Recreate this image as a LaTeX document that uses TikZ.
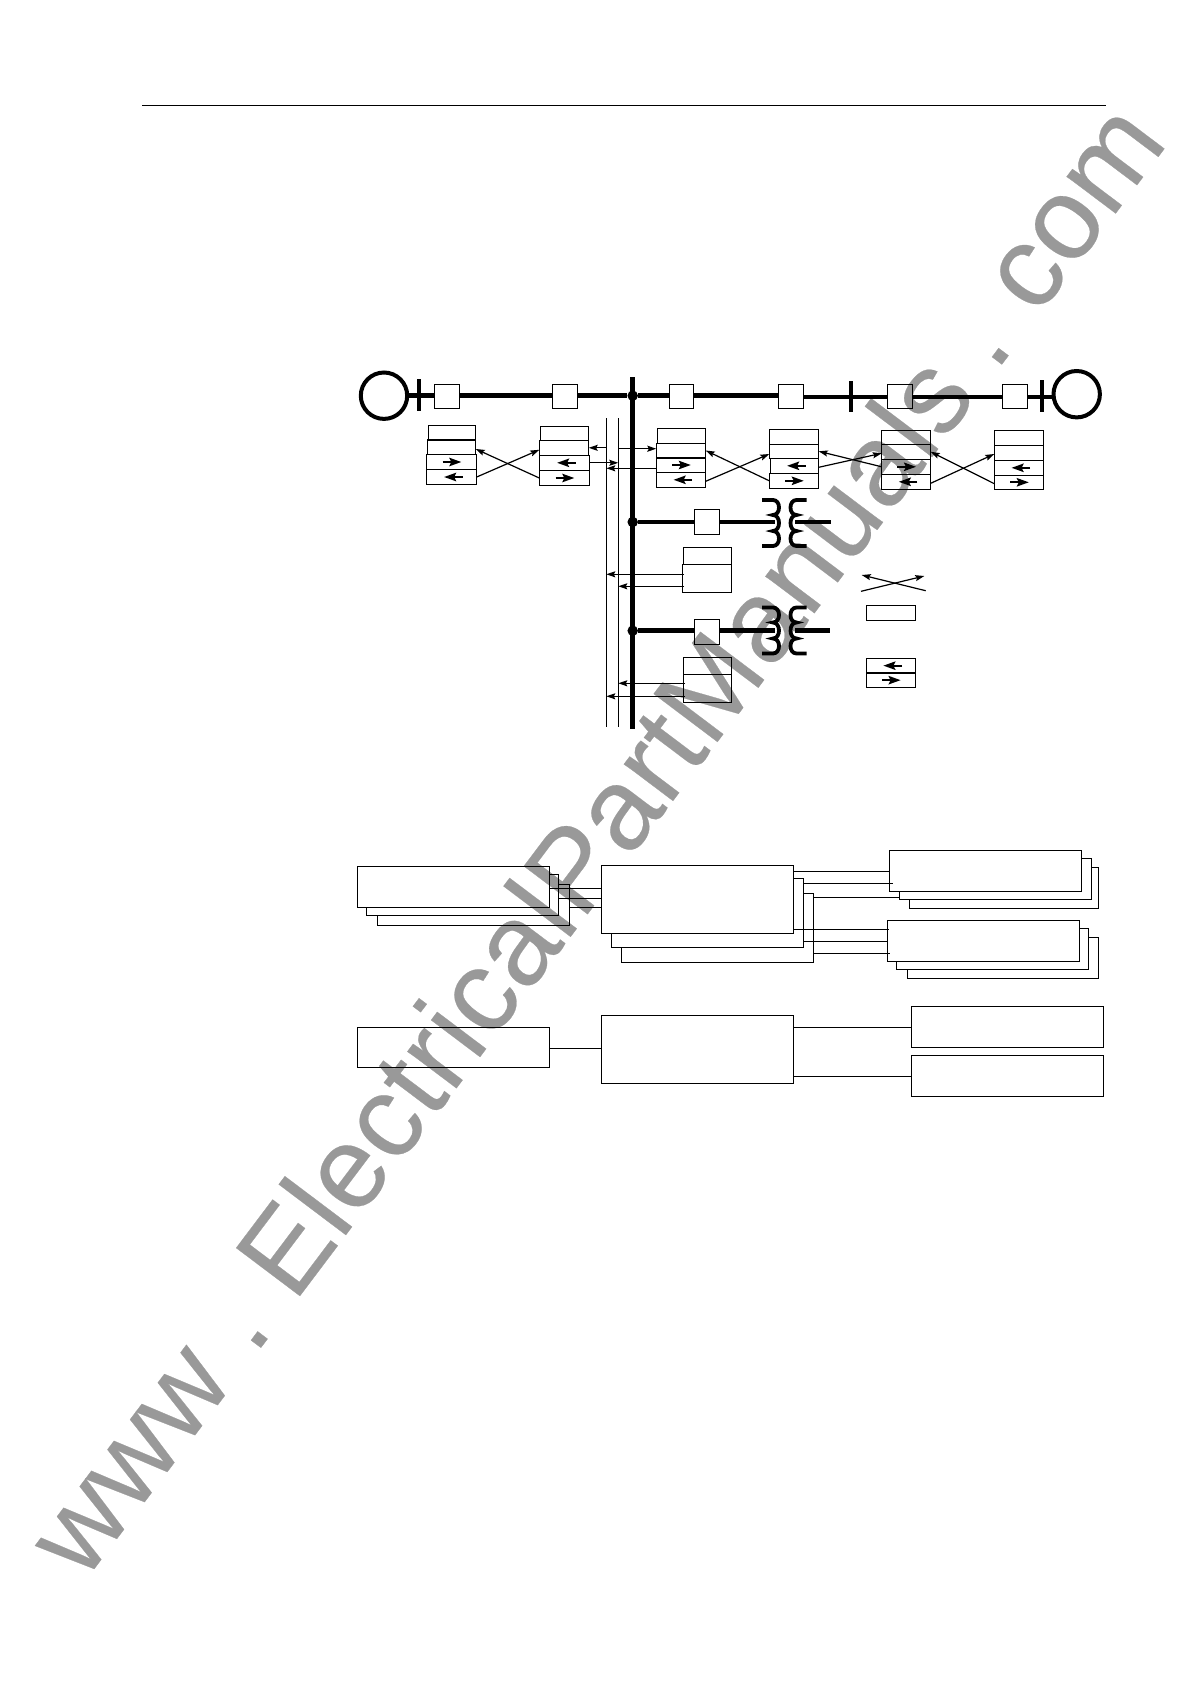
\documentclass[tikz,border=0pt]{standalone}
\usepackage{fontspec}
\setmainfont{Liberation Sans}
\newfontfamily\wmfont[FakeBold=0.2]{Liberation Sans}
\newfontfamily\wmword[FakeBold=0.2,LetterSpace=0.65]{Liberation Sans}
\usetikzlibrary{arrows.meta}
\definecolor{wmgray}{HTML}{999999}
\tikzset{
  box/.style={draw=black,line width=1.2pt,inner sep=0pt,outer sep=0pt,fill=none},
  ghost/.style={inner sep=0pt,outer sep=0pt},
  gen/.style={circle,draw=black,line width=4pt,inner sep=0pt,outer sep=0pt,minimum size=46.4pt},
  dot/.style={circle,fill=black,inner sep=0pt,outer sep=0pt,minimum size=10.5pt},
  power/.style={line width=4.6pt,draw=black},
  bar/.style={line width=4.4pt,draw=black},
  coil/.style={line width=3.8pt,draw=black,line cap=butt},
  wire/.style={line width=1.2pt,draw=black},
  divider/.style={line width=2pt,draw=black},
  arr/.style={line width=1.2pt,draw=black,-{Stealth[length=9pt,width=6pt,inset=1.5pt]}},
  mini/.style={line width=2pt,draw=black,-{Stealth[length=12pt,width=8.4pt,inset=2pt]}}
}
\newcommand{\bx}[6][]{\node[box,#1,minimum width={(#5-#3)*1pt},minimum height={(#6-#4)*1pt}] (#2) at ({(#3+#5)/2},{(#4+#6)/2}) {};}
% back sheet of a stack: name x1 y1 x2 y2 xprev yprev
\newcommand{\back}[7]{\node[ghost,minimum width={(#4-#2)*1pt},minimum height={(#5-#3)*1pt}] (#1) at ({(#2+#4)/2},{(#3+#5)/2}) {};
  \draw[wire] (#6,#3) -- (#4,#3) -- (#4,#5) -- (#2,#5) -- (#2,#7);}
\newcommand{\miniL}[1]{\draw[mini] ([xshift=11.2pt]#1.center) -- ([xshift=-7.4pt]#1.center);}
\newcommand{\miniR}[1]{\draw[mini] ([xshift=-8.8pt]#1.center) -- ([xshift=9.8pt]#1.center);}
% transformer: y of top stub
\newcommand{\xfmr}[1]{%
 \draw[coil] (762,#1) -- (773,#1) .. controls (781,#1) and (781,15+#1) .. (773,15+#1)
   .. controls (781,15+#1) and (781,31+#1) .. (773,31+#1)
   .. controls (781,31+#1) and (781,46+#1) .. (773,46+#1) -- (762,46+#1);
 \draw[coil] (806.5,#1) -- (796.5,#1) .. controls (788.5,#1) and (788.5,15+#1) .. (796.5,15+#1)
   .. controls (788.5,15+#1) and (788.5,31+#1) .. (796.5,31+#1)
   .. controls (788.5,31+#1) and (788.5,46+#1) .. (796.5,46+#1) -- (806.5,46+#1);}
\begin{document}
\begin{tikzpicture}[x=1pt,y=-1pt]
\useasboundingbox (0,0) rectangle (1190,1682);
% watermark
\node[ghost,anchor=base west,rotate=53,text=wmgray,font=\wmfont\fontsize{116}{116}\selectfont] (wm) at (84,1582.5) {www . \kern-9.4pt{\wmword ElectricalPartManuals}\kern-3.6pt{} . \kern-6pt com};
% page rule
\coordinate (ruleA) at (142,105.3);
\coordinate (ruleB) at (1106,105.3);
\draw[line width=1.2pt] (ruleA) -- (ruleB);
% reference levels
\coordinate (yl) at (0,395.7);
\coordinate (yr) at (0,397);
% main line
\node[gen] (g1) at (384,395.7) {};
\node[gen] (g2) at (1076.7,394.2) {};
\bx{s1}{434.3}{384.3}{459.7}{408.7}
\bx{s2}{552.3}{384.3}{577.7}{408.7}
\bx{s3}{669.3}{384.3}{693.7}{408.7}
\bx{s4}{778.3}{384.3}{803.7}{408.7}
\bx{s5}{887.3}{384.3}{912.7}{408.7}
\bx{s6}{1002.3}{384.3}{1027.7}{408.7}
\node[dot] (j1) at (632.7,395.7) {};
\node[dot] (j2) at (632.7,522) {};
\node[dot] (j3) at (632.7,630.7) {};
\coordinate (busT) at (632.7,377);
\coordinate (busE) at (632.7,728.7);
\draw[line width=4.8pt] (busT) -- (busE);
\coordinate (barAT) at (419,379); \coordinate (barAB) at (419,410.7);
\coordinate (barBT) at (851,381); \coordinate (barBB) at (851,412);
\coordinate (barCT) at (1042,380); \coordinate (barCB) at (1042,412);
\draw[bar] (barAT) -- (barAB);
\draw[bar] (barBT) -- (barBB);
\draw[bar] (barCT) -- (barCB);
\draw[power] (g1.east |- yl) -- (s1.west |- yl);
\draw[power] (s1.east |- yl) -- (s2.west |- yl);
\draw[power] (s2.east |- yl) -- (j1);
\draw[power] (j1) -- (s3.west |- yl);
\draw[power] (s3.east |- yl) -- (s4.west |- yl);
\draw[power] (s4.east |- yr) -- (s5.west |- yr);
\draw[power] (s5.east |- yr) -- (s6.west |- yr);
\draw[power] (s6.east |- yr) -- (g2.west |- yr);
% thin buses
\coordinate (busA) at (606.3,418); \coordinate (busAe) at (606.3,727.3);
\coordinate (busB) at (618.3,418); \coordinate (busBe) at (618.3,727.3);
\draw[wire] (busA) -- (busAe);
\draw[wire] (busB) -- (busBe);
% relay stacks
\bx{a1}{428.3}{425.3}{475.7}{439.7}
\bx{a2}{427.3}{439.7}{475.7}{454.7}
\bx{a3}{426.3}{454.7}{476.7}{469.3}
\bx{a4}{426.3}{469.3}{476.7}{484.7}
\draw[divider] (a1.south west) -- (a1.south east);
\miniR{a3} \miniL{a4}
\bx{b1}{540.3}{426.3}{588.7}{440.3}
\bx{b2}{539.3}{440.3}{588.7}{455.3}
\bx{b3}{539.3}{455.3}{589.7}{470.3}
\bx{b4}{539.3}{470.3}{589.7}{485.7}
\miniL{b3} \miniR{b4}
\bx{c1}{657.3}{428.3}{705.7}{443.3}
\bx{c2}{656.3}{443.3}{705.7}{457.7}
\bx{c3}{656.3}{457.7}{705.7}{472.3}
\bx{c4}{656.3}{472.3}{705.7}{487.3}
\draw[divider] (c2.south west) -- (c2.south east);
\miniR{c3} \miniL{c4}
\bx{d1}{769.3}{429.3}{818.7}{444.3}
\bx{d2}{769.3}{444.3}{818.7}{458.3}
\bx{d3}{770.3}{458.3}{818.7}{473.3}
\bx{d4}{769.3}{473.3}{818.7}{488.3}
\miniL{d3} \miniR{d4}
\bx{e1}{881.7}{430.3}{930.7}{444.3}
\bx{e2}{881.7}{444.3}{930.7}{459.3}
\bx{e3}{881.7}{459.3}{930.7}{474.3}
\bx{e4}{881.7}{474.3}{930.7}{489.3}
\miniR{e3} \miniL{e4}
\bx{f1}{994.3}{430.3}{1043.7}{445.3}
\bx{f2}{994.3}{445.3}{1043.7}{460.3}
\bx{f3}{994.3}{460.3}{1043.7}{475.3}
\bx{f4}{994.3}{475.3}{1043.7}{489.3}
\miniL{f3} \miniR{f4}
% crossing links
\draw[arr] (b4.west) -- ([yshift=-1.8pt]a2.east);
\draw[arr] (a4.east) -- ([yshift=-2pt]b2.west);
\draw[arr] (d4.west) -- (c2.east);
\draw[arr] ([yshift=-1.5pt]c4.east) -- ([yshift=-2.7pt]d2.west);
\draw[arr] ([yshift=-1.5pt]d3.east) -- ([yshift=-1.5pt]e2.west);
\draw[arr] (e3.west) -- (d2.east);
\draw[arr] ([yshift=-1.5pt]e4.east) -- ([yshift=-1.2pt]f2.west);
\draw[arr] ([yshift=-1.4pt]f4.west) -- (e2.east);
% links to thin buses
\coordinate (k1) at (0,448.7);
\coordinate (k2) at (0,468.3);
\draw[arr] (busA |- b2.east) -- (b2.east);
\draw[arr] (busB |- k1) -- (c2.west |- k1);
\draw[arr] (b3.east) -- (busB |- b3.east);
\draw[arr] (c3.west |- k2) -- (busA |- k2);
% transformer branches
\bx{s7}{694.3}{509.3}{719.7}{534.7}
\bx{s8}{694.3}{619.3}{719.7}{644.7}
\xfmr{500}
\xfmr{607.5}
\coordinate (t1a) at (775,522); \coordinate (t1b) at (795,522); \coordinate (t1c) at (831,522);
\coordinate (t2a) at (775,630.7); \coordinate (t2b) at (795,630.7); \coordinate (t2c) at (830,630.7);
\draw[power] (j2) -- (s7.west |- j2);
\draw[power] (s7.east |- j2) -- (t1a);
\draw[power] (t1b) -- (t1c);
\draw[power] (j3) -- (s8.west |- j3);
\draw[power] (s8.east |- j3) -- (t2a);
\draw[power] (t2b) -- (t2c);
% relays on the branches
\bx{p1}{683.3}{547.3}{731.3}{564.3}
\bx{p2}{682.3}{564.3}{731.3}{592.3}
\bx{q1}{683.3}{657.3}{731.7}{674.3}
\bx{q2}{683.3}{674.3}{731.7}{702.3}
\coordinate (m1) at (684,574.3);
\coordinate (m2) at (684,586.3);
\coordinate (m3) at (685,683.3);
\coordinate (m4) at (685,696.3);
\draw[arr] (m1) -- (busA |- m1);
\draw[arr] (m2) -- (busB |- m2);
\draw[arr] (m3) -- (busB |- m3);
\draw[arr] (m4) -- (busA |- m4);
% legend
\coordinate (xa) at (925.7,590.7); \coordinate (xb) at (861.7,575);
\coordinate (xc) at (861,591.3);   \coordinate (xd) at (924.3,576);
\draw[arr] (xa) -- (xb);
\draw[arr] (xc) -- (xd);
\bx{lg1}{866.3}{605.3}{915.3}{620.7}
\bx{lg2}{866.3}{658.3}{915.3}{673}
\bx{lg3}{866.3}{673}{915.3}{687.3}
\draw[divider] (lg2.south west) -- (lg2.south east);
\miniL{lg2} \miniR{lg3}
% lower blocks
\bx{l1}{357.3}{866.3}{549.7}{907.7}
\back{l2}{366.3}{874.3}{558.7}{915.3}{549.7}{907.7}
\back{l3}{377.3}{884.3}{569.3}{925.3}{558.7}{915.3}
\bx{m1b}{601.3}{865.3}{793.7}{933.3}
\back{m2b}{611.3}{878.3}{803.3}{947.3}{793.7}{933.3}
\back{m3b}{621.3}{893.3}{813.3}{962.3}{803.3}{947.3}
\bx{r1}{889.3}{850.3}{1081.7}{891.7}
\back{r2}{899.3}{858.3}{1091.3}{899.7}{1081.7}{891.7}
\back{r3}{909.3}{867.3}{1098.7}{908.3}{1091.3}{899.7}
\bx{r4}{887.3}{920.3}{1079.7}{961.7}
\back{r5}{896.3}{928.3}{1088.7}{969.7}{1079.7}{961.7}
\back{r6}{907.3}{937.3}{1098.7}{978.3}{1088.7}{969.7}
\bx{l4}{357.3}{1027.3}{549.7}{1067.7}
\bx{m4b}{601.3}{1015.3}{793.7}{1083.3}
\bx{r7}{911.3}{1006.3}{1103.7}{1047.3}
\bx{r8}{911.3}{1055.3}{1103.7}{1096.3}
\coordinate (n1) at (0,888.3);
\coordinate (n2) at (0,898.3);
\coordinate (n3) at (0,907.3);
\draw[wire] (l1.east |- n1) -- (m1b.west |- n1);
\draw[wire] (l2.east |- n2) -- (m1b.west |- n2);
\draw[wire] (l3.east |- n3) -- (m1b.west |- n3);
\coordinate (n4) at (889.3,871.3);
\coordinate (n5) at (893,883.3);
\coordinate (n6) at (899.3,897.3);
\draw[wire] (m1b.east |- n4) -- (n4);
\draw[wire] (m2b.east |- n5) -- (n5);
\draw[wire] (m3b.east |- n6) -- (n6);
\coordinate (n7) at (889,929.3);
\coordinate (n8) at (887.3,941.3);
\coordinate (n9) at (890,953.3);
\draw[wire] (m1b.east |- n7) -- (n7);
\draw[wire] (m2b.east |- n8) -- (n8);
\draw[wire] (m3b.east |- n9) -- (n9);
\coordinate (n10) at (0,1048.3);
\coordinate (n11) at (0,1027.3);
\coordinate (n12) at (0,1076.3);
\draw[wire] (l4.east |- n10) -- (m4b.west |- n10);
\draw[wire] (m4b.east |- n11) -- (r7.west |- n11);
\draw[wire] (m4b.east |- n12) -- (r8.west |- n12);
\end{tikzpicture}
\end{document}
